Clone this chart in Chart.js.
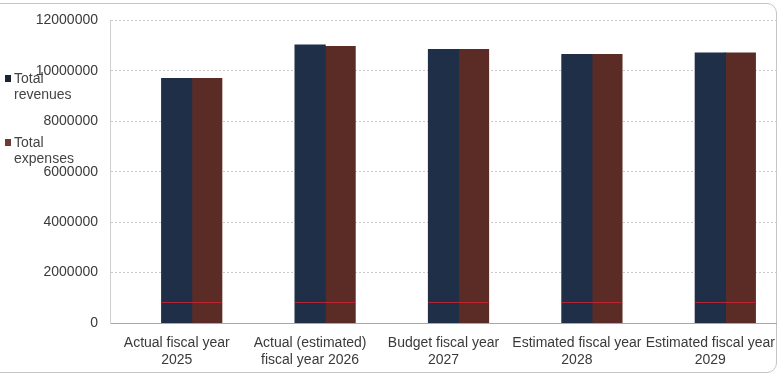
<!DOCTYPE html>
<html>
<head>
<meta charset="utf-8">
<script src="https://cdn.jsdelivr.net/npm/chart.js@4.4.1/dist/chart.umd.min.js"></script>
<style>
  html, body { margin: 0; padding: 0; background: #fff; overflow: hidden; }
  body { width: 777px; height: 379px; position: relative; font-family: "Liberation Sans", Arial, sans-serif; }
  #wrap { position: absolute; left: 0; top: 0; width: 777px; height: 379px; }
  #frame { position: absolute; left: -20px; top: 3px; width: 795px; height: 368px;
           border: 1px solid #c4c4c4; border-radius: 10px; pointer-events: none; }
  .leg { position: absolute; left: 5px; font-size: 14px; color: #444; line-height: 16px; }
  .leg i { display: inline-block; width: 6px; height: 7px; margin-right: 3px; vertical-align: 1px; }
  .leg span { display: block; padding-left: 9px; }
</style>
</head>
<body>
<div id="frame"></div>
<div id="wrap"><canvas id="chart"></canvas></div>
<div class="leg" id="legRev" style="top:70px"></div>
<div class="leg" id="legExp" style="top:134px"></div>
<script>
const categories = [
  ['Actual fiscal year', '2025'],
  ['Actual (estimated)', 'fiscal year 2026'],
  ['Budget fiscal year', '2027'],
  ['Estimated fiscal year', '2028'],
  ['Estimated fiscal year', '2029'],
];
// the source chart has an empty first series, which pushes the two bars right
const emptySeries = [null, null, null, null, null];
const revenues = [9690000, 11020000, 10840000, 10640000, 10700000];
const expenses = [9690000, 10960000, 10840000, 10640000, 10700000];
const markLine = [830000, 830000, 830000, 830000, 830000];
const seriesNames = ['Total revenues', 'Total expenses'];
const yTicks = { min: 0, max: 12000000, step: 2000000 };

const revColor = '#1f2f47';
const expColor = '#5b2c26';

function fillLegend(id, color, name) {
  const parts = name.split(' ');
  document.getElementById(id).innerHTML =
    `<i style="background:${color}"></i>${parts[0]}<span>${parts.slice(1).join(' ')}</span>`;
}
fillLegend('legRev', '#1a2433', seriesNames[0]);
fillLegend('legExp', '#6e3b33', seriesNames[1]);

// thin red rule drawn across each revenue/expense pair
const markPlugin = {
  id: 'markPlugin',
  afterDatasetsDraw(chart) {
    const { ctx, scales } = chart;
    const rev = chart.getDatasetMeta(1).data;
    const exp = chart.getDatasetMeta(2).data;
    ctx.save();
    ctx.strokeStyle = 'rgba(205,35,50,0.85)';
    ctx.lineWidth = 1;
    markLine.forEach((v, i) => {
      const y = Math.round(scales.y.getPixelForValue(v)) + 0.5;
      ctx.beginPath();
      ctx.moveTo(rev[i].x - rev[i].width / 2, y);
      ctx.lineTo(exp[i].x + exp[i].width / 2, y);
      ctx.stroke();
    });
    ctx.restore();
  },
};

const barOpts = { categoryPercentage: 0.675, barPercentage: 1.0, inflateAmount: 0.6 };

new Chart(document.getElementById('chart'), {
  type: 'bar',
  data: {
    labels: categories,
    datasets: [
      { label: '', data: emptySeries, backgroundColor: 'rgba(0,0,0,0)', ...barOpts },
      { label: seriesNames[0], data: revenues, backgroundColor: revColor, ...barOpts },
      { label: seriesNames[1], data: expenses, backgroundColor: expColor, ...barOpts },
    ],
  },
  plugins: [markPlugin],
  options: {
    responsive: true,
    maintainAspectRatio: false,
    animation: false,
    layout: { autoPadding: false, padding: { top: 18, right: 0, bottom: 0, left: 0 } },
    plugins: { legend: { display: false }, tooltip: { enabled: false } },
    scales: {
      x: {
        grid: { display: false },
        border: { color: '#a8a8a8', dash: [2, 1] },
        ticks: {
          color: '#3a3a3a',
          font: { family: 'Liberation Sans', size: 14 },
          maxRotation: 0,
          autoSkip: false,
          padding: 4,
        },
        afterFit: (scale) => {
          scale.height = 56;
          scale.paddingLeft = 0;
          scale.paddingRight = 0;
        },
      },
      y: {
        min: yTicks.min,
        max: yTicks.max,
        grid: { color: '#c9c9c9', lineWidth: 1, drawTicks: false },
        border: { display: true, color: '#cfcfcf', dash: [2, 2] },
        ticks: {
          stepSize: yTicks.step,
          color: '#3a3a3a',
          font: { family: 'Liberation Sans', size: 14 },
          padding: 12,
          callback: (v) => String(v),
        },
        afterFit: (scale) => { scale.width = 110; },
      },
    },
  },
});
</script>
</body>
</html>
